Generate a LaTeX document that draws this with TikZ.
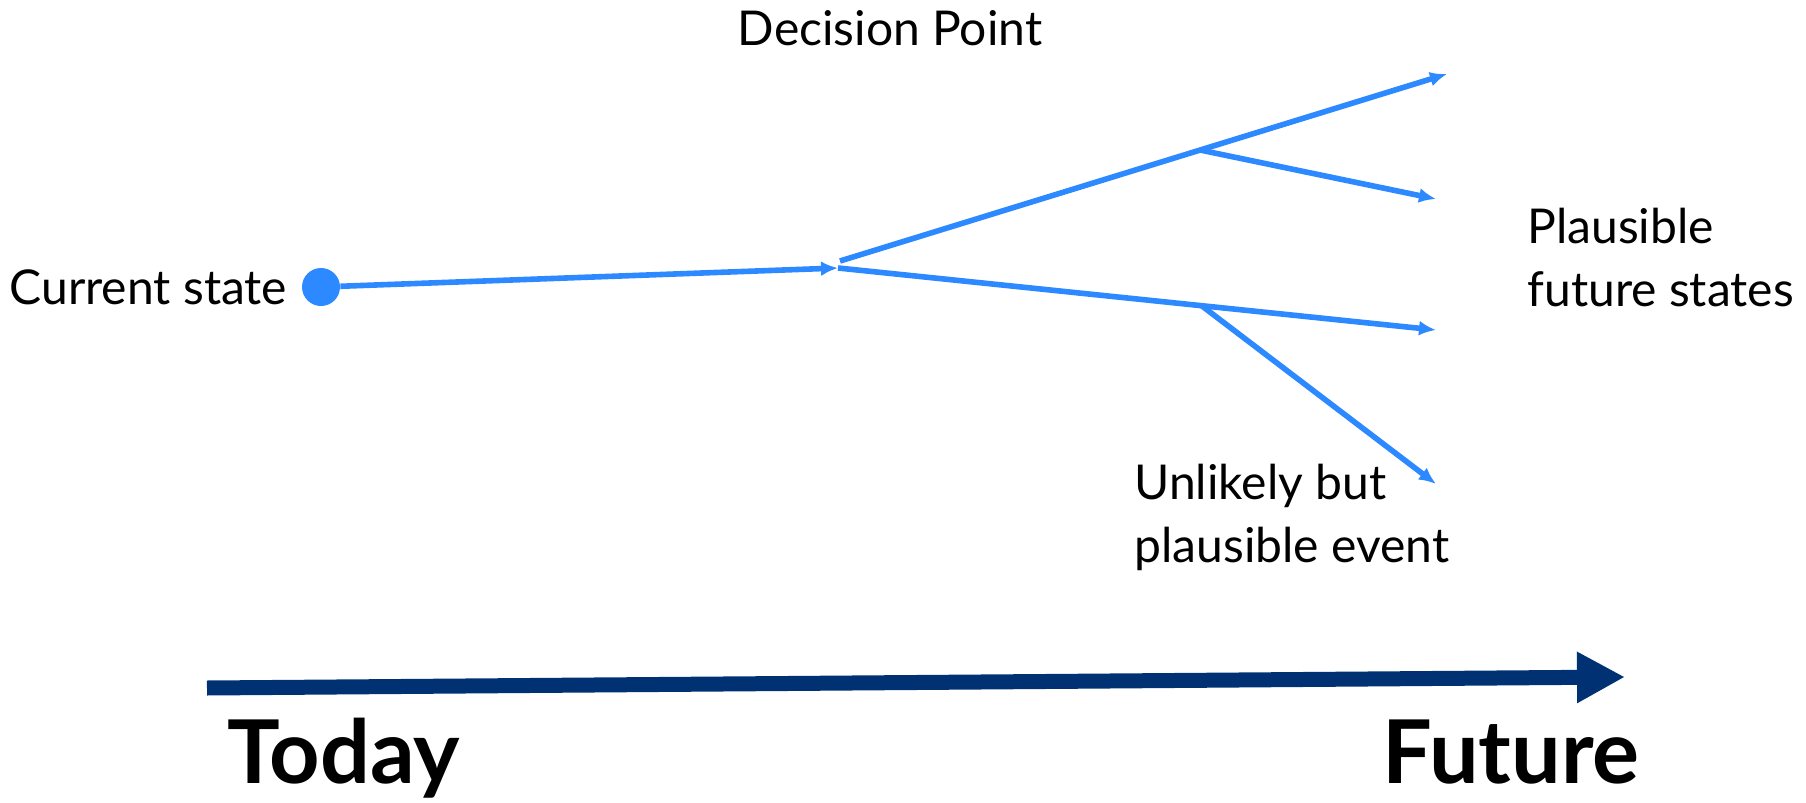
\documentclass[tikz,border=0pt]{standalone}
\usepackage{fontspec}
\setmainfont{Lato}
\usetikzlibrary{positioning,arrows.meta}
\definecolor{branchblue}{RGB}{45,137,255}
\definecolor{timenavy}{RGB}{0,50,115}
\tikzset{
  branch/.style={draw=branchblue,line width=2.8pt,-{Latex[length=8.5pt,width=7.5pt]}},
  lbl/.style={inner sep=0pt,font=\fontsize{24}{31.5}\selectfont,align=left},
  bigword/.style={inner sep=0pt,font=\fontsize{44}{50}\selectfont\bfseries}
}
\begin{document}
\begin{tikzpicture}[x=0.5pt,y=-0.5pt]
      \useasboundingbox (0,0) rectangle (1806,803);

      % the tree of futures
      \node[circle,fill=branchblue,minimum size=19pt,inner sep=0pt] (now) at (321,287) {};
      \coordinate (dp) at (838,268);
      \coordinate (dpu) at (840,261);
      \coordinate (up) at (1200,150);
      \coordinate (lo) at (1202,306);
      \coordinate (tipA) at (1447,74);
      \coordinate (tipB) at (1436,199);
      \coordinate (tipC) at (1436,330);
      \coordinate (tipD) at (1436,484);

      \draw[branch] (now) -- (dp);
      \draw[branch] (dpu) -- (tipA);
      \draw[branch] (up) -- (tipB);
      \draw[branch] (dp) -- (tipC);
      \draw[branch] (lo) -- (tipD);

      \node[lbl,left=7pt of now] (cur) {Current state};
      \node[lbl] (dec) at (890,28) {Decision Point};
      \node[lbl,anchor=west] (plaus) at (1527,258) {Plausible\\future states};
      \node[lbl,anchor=west] (odd) at (1134,517) {Unlikely but\\plausible event};

      % time axis
      \coordinate (t0) at (207,688);
      \coordinate (t1) at (1625,677);
      \draw[timenavy,line width=7.5pt,-{Triangle[length=24pt,width=24pt]}] (t0) -- (t1);
      \node[bigword,anchor=base west] (today) at (227,783) {Today};
      \node[bigword,anchor=base west] (future) at (1382,783) {Future};
\end{tikzpicture}
\end{document}
